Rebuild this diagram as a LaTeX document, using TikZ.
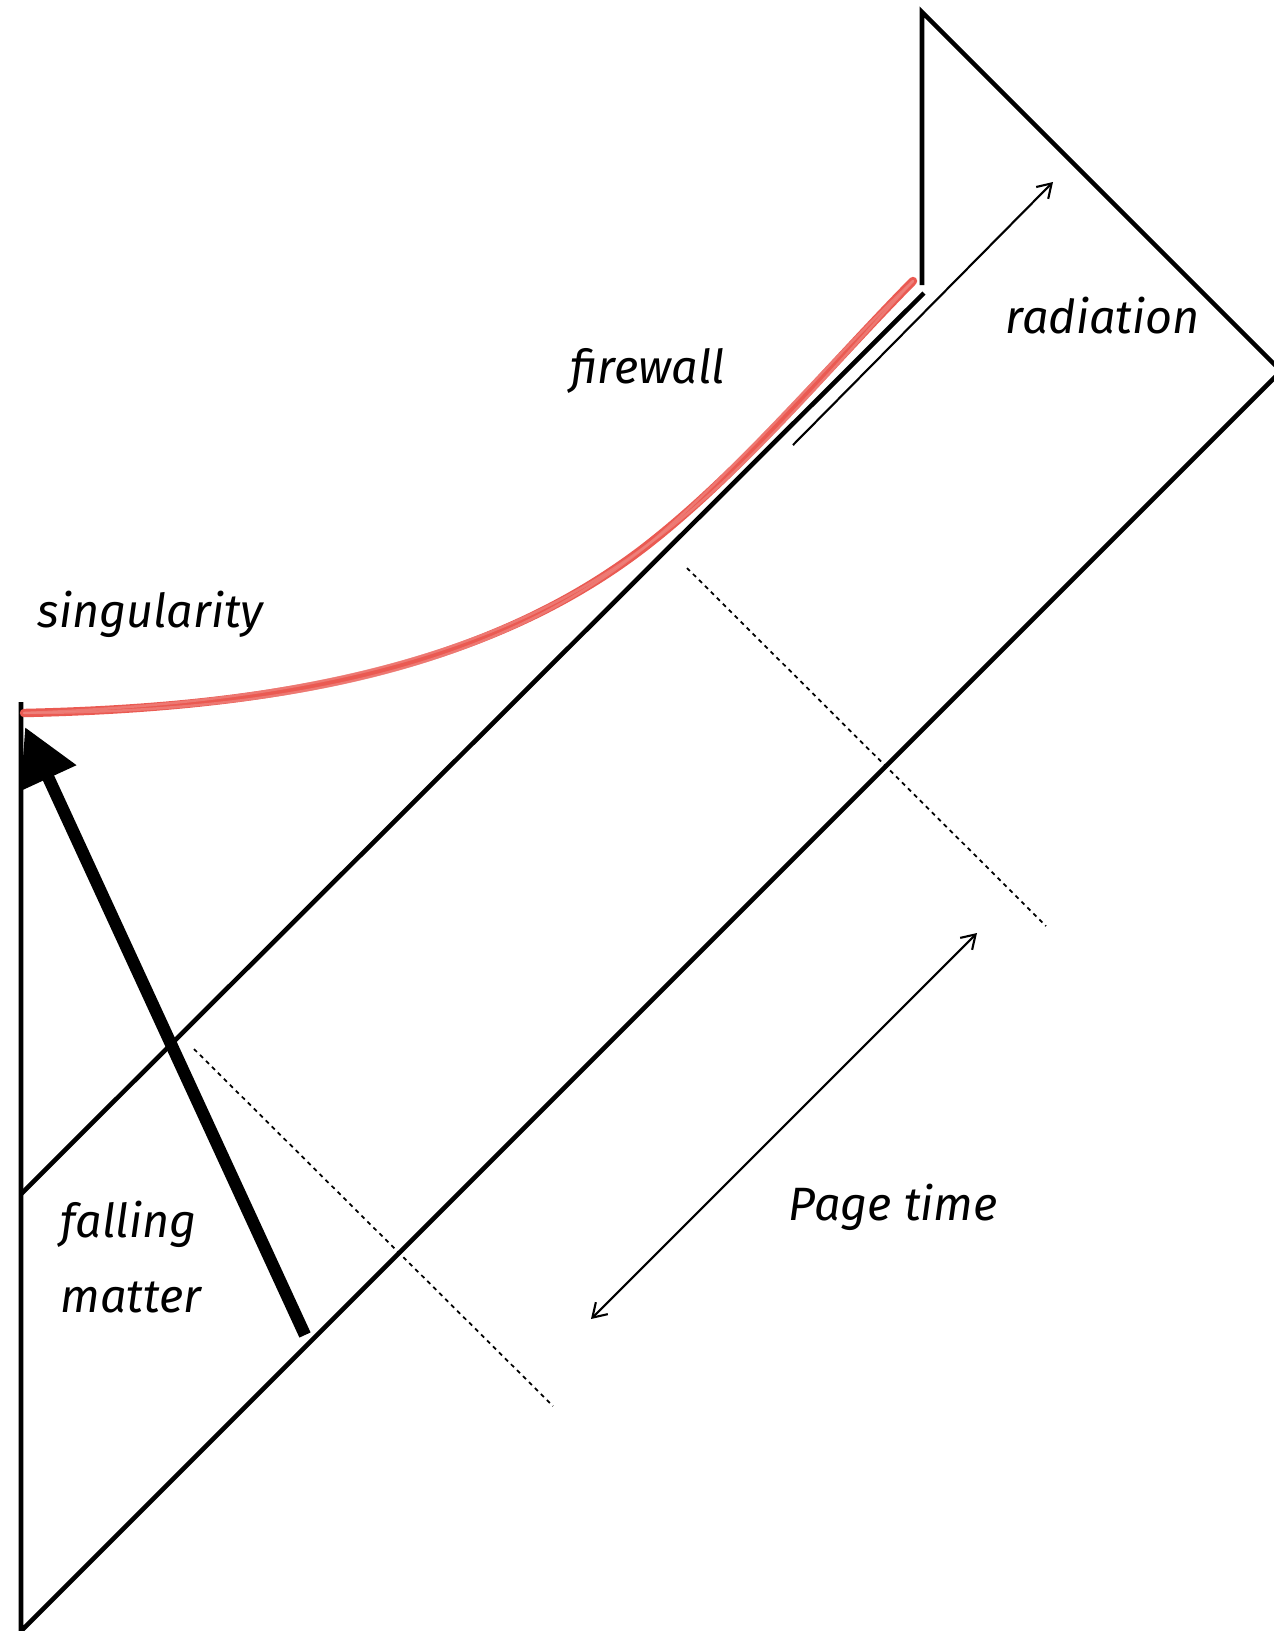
\documentclass[tikz,border=0pt]{standalone}
\usepackage{fontspec}
\setmainfont{Fira Sans}
\usetikzlibrary{arrows.meta}
\definecolor{chalk}{RGB}{234,90,82}
\begin{document}
\begin{tikzpicture}[x=0.1mm,y=-0.1mm,
  frame/.style={line width=1.3pt},
  thinarrow/.style={line width=0.6pt,-{Straight Barb[length=3.8pt,width=4.8pt]}},
  botharrow/.style={line width=0.6pt,{Straight Barb[length=3.8pt,width=4.8pt]}-{Straight Barb[length=3.8pt,width=4.8pt]}},
  matterarrow/.style={line width=3.5pt,-{Triangle[length=16pt,width=16.5pt]}},
  dotline/.style={line width=0.5pt,dash pattern=on 1.2pt off 1.2pt},
  chalkline/.style={chalk,line width=2.4pt,line cap=round},
  chalkedge/.style={chalk!75,line width=0.7pt,opacity=0.75,line cap=round},
  lbl/.style={inner sep=0pt,font=\fontsize{13.3}{15}\selectfont\itshape}
]
\useasboundingbox (0,0) rectangle (1274,1631);
\clip (0,0) rectangle (1274,1631);
\fill[white] (0,0) rectangle (1274,1631);

% corners of the diagram
\coordinate (bl) at (21,1631);
\coordinate (lt) at (21,702);
\coordinate (rc) at (1281,371);
\coordinate (tt) at (922,12);
\coordinate (tb) at (922,285);
\coordinate (hs) at (21,1194);
\coordinate (he) at (924,293);

\draw[frame] (lt) -- (bl) -- (rc) -- (tt) -- (tb);
\draw[frame] (hs) -- (he);

% dotted slices
\coordinate (d1a) at (687,568);
\coordinate (d1b) at (1046,926);
\coordinate (d2a) at (194,1049);
\coordinate (d2b) at (553,1406);
\draw[dotline] (d1a) -- (d1b);
\draw[dotline] (d2a) -- (d2b);

% firewall / singularity curve
\coordinate (c0) at (24,713);
\coordinate (c1) at (650,543);
\coordinate (c2) at (913,281);
\draw[chalkline] (c0) .. controls (250,708) and (480,677) .. (c1)
  .. controls (745,468) and (830,365) .. (c2);
\draw[chalkedge,shift={(2,4)}] (c0) .. controls (250,708) and (480,677) .. (c1)
  .. controls (745,468) and (830,365) .. (c2);
\draw[chalkedge,shift={(-2,-4)}] (c0) .. controls (250,708) and (480,677) .. (c1)
  .. controls (745,468) and (830,365) .. (c2);

% arrows
\coordinate (ra) at (793,445);
\coordinate (rb) at (1053,182);
\draw[thinarrow] (ra) -- (rb);
\coordinate (pa) at (591,1319);
\coordinate (pb) at (977,933);
\draw[botharrow] (pa) -- (pb);
\coordinate (ma) at (305,1335);
\coordinate (mb) at (25,727);
\draw[matterarrow] (ma) -- (mb);

% labels
\node[lbl,anchor=base west] (tRad) at (1005,333) {radiation};
\node[lbl,anchor=base west] (tFire) at (570,383) {firewall};
\node[lbl,anchor=base west] (tSing) at (37,627) {singularity};
\node[lbl,anchor=base west] (tFall) at (60,1237) {falling};
\node[lbl,anchor=base west] (tMat) at (60,1312) {matter};
\node[lbl,anchor=base west] (tPage) at (788,1220) {Page time};
\end{tikzpicture}
\end{document}
